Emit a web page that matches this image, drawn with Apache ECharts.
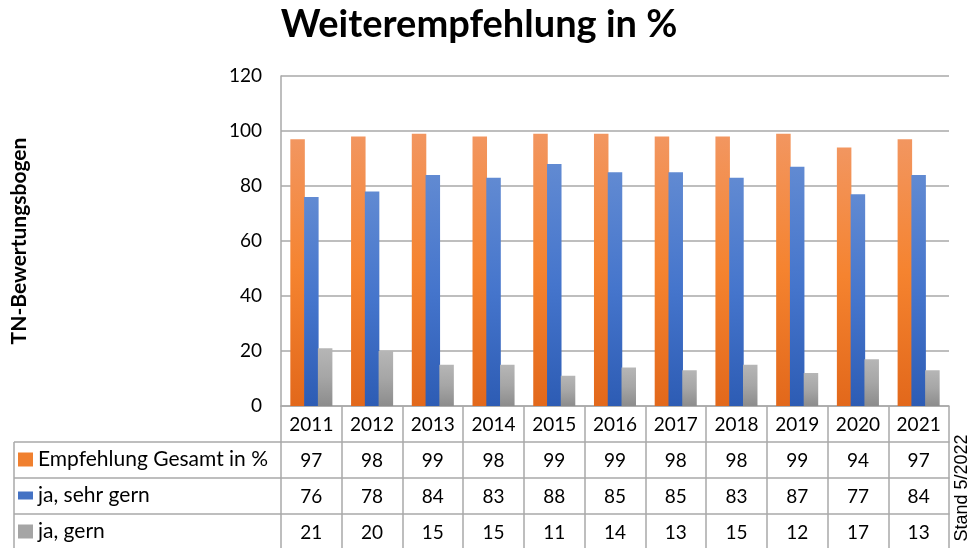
<!DOCTYPE html>
<html>
<head>
<meta charset="utf-8">
<script src="https://cdn.jsdelivr.net/npm/echarts@6/dist/echarts.min.js"></script>
<style>html,body{margin:0;padding:0;background:#fff}#c{width:978px;height:548px}</style>
</head>
<body>
<div id="c"></div>
<script>
const years = ['2011','2012','2013','2014','2015','2016','2017','2018','2019','2020','2021'];
const gesamt = [97, 98, 99, 98, 99, 99, 98, 98, 99, 94, 97];
const sehrGern = [76, 78, 84, 83, 88, 85, 85, 83, 87, 77, 84];
const gern = [21, 20, 15, 15, 11, 14, 13, 15, 12, 17, 13];
const seriesNames = ['Empfehlung Gesamt in %', 'ja, sehr gern', 'ja, gern'];
const yTicks = [0, 20, 40, 60, 80, 100, 120];

const FONT = 'Lato';
const GRID = '#a9a9a9';
const chart = echarts.init(document.getElementById('c'));

function grad(a, b, c) {
  return { type: 'linear', x: 0, y: 0, x2: 0, y2: 1,
    colorStops: [{ offset: 0, color: a }, { offset: 0.5, color: b }, { offset: 1, color: c }] };
}
const fills = [
  grad('#F29660', '#F5832F', '#E2681B'),
  grad('#618AD2', '#4575CC', '#2D5CB4'),
  grad('#B6B6B6', '#A6A6A6', '#8C8C8C')
];
const solid = ['#F0802F', '#4472C4', '#A5A5A5'];
const keyHeights = [14, 8, 14];
const rows = [gesamt, sehrGern, gern];

const xAxes = [{
  type: 'category', data: years, gridIndex: 0, position: 'bottom',
  axisLine: { show: true, lineStyle: { color: GRID, width: 1.5 } },
  axisTick: { show: true, length: 143, lineStyle: { color: GRID, width: 1.5 } },
  axisLabel: { color: '#000', fontFamily: FONT, fontSize: 19, margin: 9 },
  splitLine: { show: false }
}];
rows.forEach((arr, i) => {
  xAxes.push({
    type: 'category', data: years, gridIndex: 0, position: 'bottom', offset: 36 * (i + 1),
    axisLine: { show: true, lineStyle: { color: GRID, width: 1.5 } },
    axisTick: { show: false },
    axisLabel: { color: '#000', fontFamily: FONT, fontSize: 19, margin: 9,
      formatter: (v, idx) => String(arr[idx]) },
    splitLine: { show: false }
  });
});

const legendTops = [449, 485, 521];

const option = {
  animation: false,
  backgroundColor: '#fff',
  title: {
    text: 'Weiterempfehlung in %', left: 474, top: 1, textAlign: 'center',
    textStyle: { fontFamily: FONT, fontWeight: 'bold', fontSize: 38, color: '#000' }
  },
  grid: { left: 281, right: 29, top: 76, height: 330 },
  legend: seriesNames.map((n, i) => ({
    orient: 'vertical', left: 18, top: legendTops[i], padding: 0,
    itemWidth: 15, itemHeight: keyHeights[i], icon: 'rect', itemGap: 6,
    textStyle: { fontFamily: FONT, fontSize: 21, color: '#000', lineHeight: 21 },
    data: [{ name: n, itemStyle: { color: solid[i] } }]
  })),
  xAxis: xAxes,
  yAxis: {
    type: 'value', min: yTicks[0], max: yTicks[yTicks.length - 1], interval: 20,
    name: 'TN-Bewertungsbogen', nameLocation: 'middle', nameRotate: 90, nameGap: 251,
    nameTextStyle: { fontFamily: FONT, fontWeight: 'bold', fontSize: 21, color: '#000' },
    axisLine: { show: true, lineStyle: { color: GRID, width: 1.5 } },
    axisTick: { show: false },
    axisLabel: { color: '#000', fontFamily: FONT, fontSize: 19, margin: 19 },
    splitLine: { show: true, lineStyle: { color: GRID, width: 1.5 } }
  },
  series: rows.map((arr, i) => ({
    name: seriesNames[i], type: 'bar', xAxisIndex: 0, yAxisIndex: 0,
    data: arr, barWidth: 14.5, barGap: '-5%',
    itemStyle: { color: fills[i] }
  })),
  graphic: [
    { type: 'line', shape: { x1: 14, y1: 442, x2: 281, y2: 442 }, style: { stroke: GRID, lineWidth: 1.5 } },
    { type: 'line', shape: { x1: 14, y1: 478, x2: 281, y2: 478 }, style: { stroke: GRID, lineWidth: 1.5 } },
    { type: 'line', shape: { x1: 14, y1: 514, x2: 281, y2: 514 }, style: { stroke: GRID, lineWidth: 1.5 } },
    { type: 'line', shape: { x1: 14, y1: 442, x2: 14, y2: 550 }, style: { stroke: GRID, lineWidth: 1.5 } },
    { type: 'text', x: 962, y: 488, rotation: Math.PI / 2,
      style: { text: 'Stand 5/2022', fontFamily: 'Liberation Sans', fontSize: 18, fill: '#000',
        align: 'center', verticalAlign: 'middle' } }
  ]
};
chart.setOption(option);
</script>
</body>
</html>
